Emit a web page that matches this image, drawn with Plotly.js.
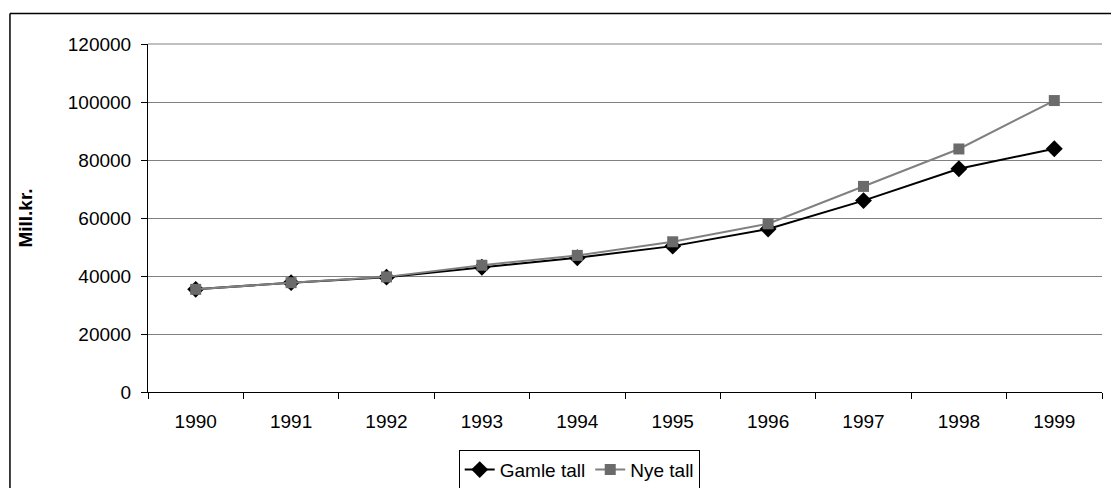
<!DOCTYPE html>
<html>
<head>
<meta charset="utf-8">
<script src="https://cdn.plot.ly/plotly-3.0.1.min.js"></script>
<style>html,body{margin:0;padding:0;background:#fff;}#chart{width:1111px;height:488px;}</style>
</head>
<body>
<div id="chart"></div>
<script>
var years = ['1990','1991','1992','1993','1994','1995','1996','1997','1998','1999'];
var gamleTall = [35400, 37700, 39600, 43000, 46300, 50300, 56200, 66000, 77000, 83900];
var nyeTall   = [35400, 37700, 39700, 43700, 47100, 51800, 58000, 70900, 83800, 100500];
var yTicks = [0, 20000, 40000, 60000, 80000, 100000, 120000];

var FAM = 'Liberation Sans, Arial, sans-serif';
var font = {family: FAM, size: 19, color: '#000'};

var traces = [
  {x: years, y: gamleTall, name: 'Gamle tall', type: 'scatter', mode: 'lines+markers',
   line: {color: '#000000', width: 2}, marker: {symbol: 'diamond', size: 13, color: '#000000'}},
  {x: years, y: nyeTall, name: 'Nye tall', type: 'scatter', mode: 'lines+markers',
   line: {color: '#808080', width: 2}, marker: {symbol: 'square', size: 11, color: '#6b6b6b'}}
];

var layout = {
  width: 1111, height: 488,
  margin: {l: 148, r: 9, t: 44, b: 96, pad: 0, autoexpand: false},
  paper_bgcolor: '#fff', plot_bgcolor: '#fff',
  font: font,
  showlegend: true,
  legend: {orientation: 'h', x: 0.452, xanchor: 'center', y: -0.166, yanchor: 'top',
           bordercolor: '#000', borderwidth: 1, font: {family: FAM, size: 19, color: '#000'}, bgcolor: '#fff',
           tracegroupgap: 0},
  xaxis: {type: 'category', range: [-0.5, 9.5], tickson: 'boundaries', ticks: 'outside', ticklen: 6,
          tickcolor: '#000', showline: true, linecolor: '#000', linewidth: 1,
          showgrid: false, zeroline: false, tickfont: font, automargin: false,
          ticklabelstandoff: 12},
  yaxis: {range: [0, 120000], tickvals: yTicks, tickformat: 'd', ticks: 'outside', ticklen: 6,
          tickcolor: '#000', showline: true, linecolor: '#000', linewidth: 1,
          showgrid: true, gridcolor: '#808080', gridwidth: 1, zeroline: false,
          tickfont: font, automargin: false, ticklabelstandoff: 6,
          title: {text: 'Mill.kr.', font: {family: FAM, size: 19, color: '#000', weight: 'bold'}, standoff: 30}},
  shapes: [
    {type: 'line', xref: 'paper', yref: 'paper', x0: 0, x1: 1, y0: 1, y1: 1,
     line: {color: '#c0c0c0', width: 2}, layer: 'above'},
    {type: 'line', xref: 'paper', yref: 'paper', x0: -0.1447, x1: 1.02, y0: 1.088, y1: 1.088,
     line: {color: '#000', width: 1.5}},
    {type: 'line', xref: 'paper', yref: 'paper', x0: -0.1447, x1: -0.1447, y0: 1.088, y1: -0.3,
     line: {color: '#000', width: 1.5}}
  ]
};

Plotly.newPlot('chart', traces, layout, {displayModeBar: false, staticPlot: true});
</script>
</body>
</html>
